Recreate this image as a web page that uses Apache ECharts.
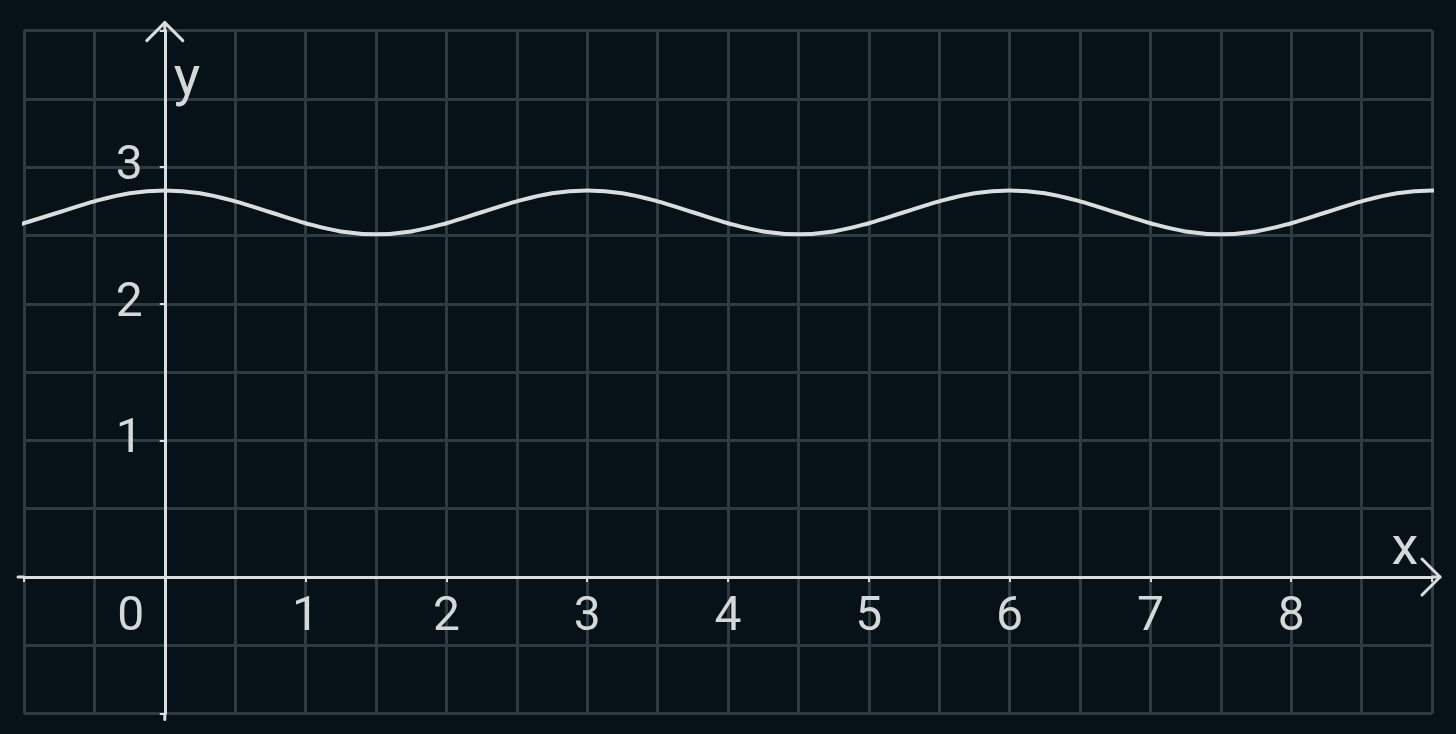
<!DOCTYPE html>
<html>
<head>
<meta charset="utf-8">
<script src="https://cdn.jsdelivr.net/npm/echarts@6/dist/echarts.min.js"></script>
<style>
html,body{margin:0;padding:0;background:#061217;}
#chart{width:1456px;height:734px;}
</style>
</head>
<body>
<div id="chart"></div>
<script>
// Data
const xValues = [-1.05, -1, -0.75, -0.5, -0.25, 0, 0.25, 0.5, 0.75, 1, 1.25, 1.5, 1.75, 2, 2.25, 2.5, 2.75, 3,
  3.25, 3.5, 3.75, 4, 4.25, 4.5, 4.75, 5, 5.25, 5.5, 5.75, 6, 6.25, 6.5, 6.75, 7, 7.25, 7.5, 7.75, 8, 8.25, 8.5, 8.75, 9, 9.07];
const yValues = [2.57, 2.59, 2.67, 2.75, 2.81, 2.83, 2.81, 2.75, 2.67, 2.59, 2.53, 2.51, 2.53, 2.59, 2.67, 2.75, 2.81, 2.83,
  2.81, 2.75, 2.67, 2.59, 2.53, 2.51, 2.53, 2.59, 2.67, 2.75, 2.81, 2.83, 2.81, 2.75, 2.67, 2.59, 2.53, 2.51, 2.53, 2.59, 2.67, 2.75, 2.81, 2.83, 2.83];
const xTickLabels = ['0', '1', '2', '3', '4', '5', '6', '7', '8'];
const yTickLabels = ['1', '2', '3'];
const xName = 'x';
const yName = 'y';

const axisColor = '#d9dddd';
const gridColor = '#2e3c3f';
const labelColor = '#d4d8d8';
const fontFamily = 'Roboto, "Noto Sans", sans-serif';

const chart = echarts.init(document.getElementById('chart'));
const points = xValues.map((x, i) => [x, yValues[i]]);

chart.setOption({
  backgroundColor: '#061217',
  animation: false,
  grid: { left: 24, right: 24, top: 30.6, bottom: 20.4, containLabel: false, outerBoundsMode: 'none' },
  xAxis: {
    type: 'value', min: -1, max: 9, interval: 1, position: 'bottom', offset: 0,
    name: xName, nameLocation: 'end', nameGap: -27,
    nameTextStyle: { color: labelColor, fontSize: 54, fontFamily, align: 'center', verticalAlign: 'bottom' },
    axisLine: { show: true, onZero: false, lineStyle: { color: axisColor, width: 3 } },
    axisTick: { show: true, inside: false, length: 5, lineStyle: { color: axisColor, width: 2 } },
    minorTick: { show: false, splitNumber: 2 },
    splitLine: { show: true, lineStyle: { color: gridColor, width: 3 } },
    minorSplitLine: { show: true, lineStyle: { color: gridColor, width: 3 } },
    axisLabel: {
      show: true, margin: 17, color: labelColor, fontSize: 48, fontFamily,
      showMinLabel: true, showMaxLabel: true, hideOverlap: false,
      formatter: function (v) {
        const s = String(Math.round(v));
        if (Math.abs(v - Math.round(v)) > 1e-6 || xTickLabels.indexOf(s) < 0) return '';
        return s === '0' ? '{zero|' + s + '}' : s;
      },
      rich: { zero: { color: labelColor, fontSize: 48, fontFamily, padding: [0, 68, 0, 0] } }
    }
  },
  yAxis: {
    type: 'value', min: -1, max: 4, interval: 1, position: 'left', offset: 0,
    name: yName, nameLocation: 'end', nameGap: -22,
    nameTextStyle: { color: labelColor, fontSize: 56, fontFamily, align: 'left', verticalAlign: 'top', padding: [0, 0, 0, 9] },
    axisLine: { show: true, onZero: false, lineStyle: { color: axisColor, width: 3 } },
    axisTick: { show: true, inside: false, length: 5, lineStyle: { color: axisColor, width: 2 } },
    minorTick: { show: false, splitNumber: 2 },
    splitLine: { show: true, lineStyle: { color: gridColor, width: 3 } },
    minorSplitLine: { show: true, lineStyle: { color: gridColor, width: 3 } },
    axisLabel: {
      show: true, margin: 22, color: labelColor, fontSize: 48, fontFamily, hideOverlap: false,
      formatter: function (v) {
        const s = String(Math.round(v));
        if (Math.abs(v - Math.round(v)) > 1e-6 || yTickLabels.indexOf(s) < 0) return '';
        return s;
      }
    }
  },
  series: [{
    type: 'line',
    data: points,
    smooth: 0.4,
    showSymbol: false,
    clip: false,
    lineStyle: { color: axisColor, width: 4 },
    z: 3
  }]
});

// Move the axes so they cross at the origin (labels and ticks follow them)
let o = chart.convertToPixel({ gridIndex: 0 }, [0, 0]);
const xStart = chart.convertToPixel({ gridIndex: 0 }, [-1, -1]);
chart.setOption({
  xAxis: { offset: o[1] - xStart[1] },
  yAxis: { offset: xStart[0] - o[0] }
});
o = chart.convertToPixel({ gridIndex: 0 }, [0, 0]);
const xEnd = chart.convertToPixel({ gridIndex: 0 }, [9, 0]);
const yEnd = chart.convertToPixel({ gridIndex: 0 }, [0, 4]);

// Open chevron arrow heads at the axis ends
const arm = 18;
const stroke = { stroke: axisColor, lineWidth: 3, fill: null, lineCap: 'round', lineJoin: 'round' };
chart.setOption({
  graphic: [
    { type: 'polyline', z: 10, shape: { points: [[xStart[0] - 6, o[1]], [xStart[0], o[1]]] }, style: stroke },
    { type: 'polyline', z: 10, shape: { points: [[xEnd[0], o[1]], [xEnd[0] + 8, o[1]]] }, style: stroke },
    { type: 'polyline', z: 10, shape: { points: [[xEnd[0] + 8 - arm, o[1] - arm], [xEnd[0] + 8, o[1]], [xEnd[0] + 8 - arm, o[1] + arm]] }, style: stroke },
    { type: 'polyline', z: 10, shape: { points: [[o[0], xStart[1]], [o[0], xStart[1] + 6]] }, style: stroke },
    { type: 'polyline', z: 10, shape: { points: [[o[0], yEnd[1]], [o[0], yEnd[1] - 8]] }, style: stroke },
    { type: 'polyline', z: 10, shape: { points: [[o[0] - arm, yEnd[1] - 8 + arm], [o[0], yEnd[1] - 8], [o[0] + arm, yEnd[1] - 8 + arm]] }, style: stroke }
  ]
});
</script>
</body>
</html>
